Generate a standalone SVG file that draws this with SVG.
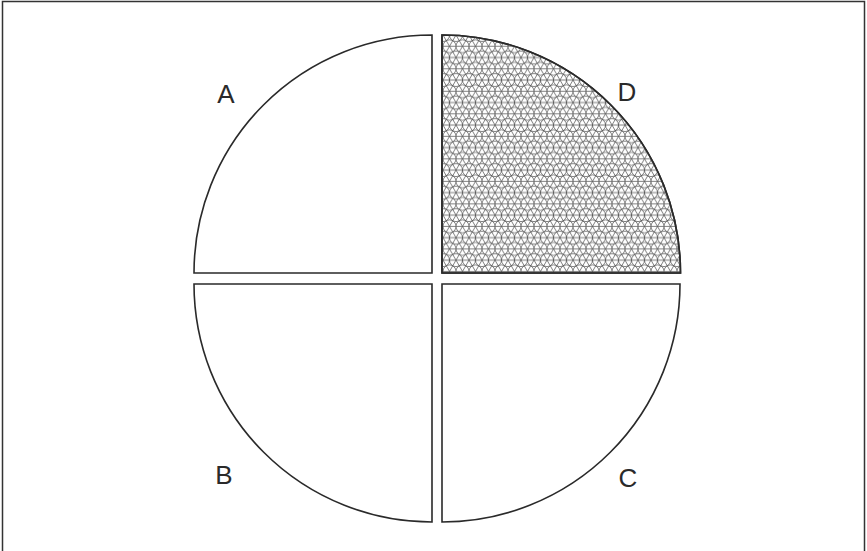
<svg xmlns="http://www.w3.org/2000/svg" width="867" height="551" viewBox="0 0 867 551">
<style>
.q{stroke:#2a2a2a;stroke-width:1.6;stroke-linejoin:miter}
.lbl{font-family:"Liberation Sans",Arial,sans-serif;font-size:26px;fill:#2a2a2a;text-anchor:middle}
</style>
<defs>
<pattern id="mesh" patternUnits="userSpaceOnUse" x="443" y="35" width="13" height="22.517">
<g fill="none" stroke="#555" stroke-width="0.75">
<path d="M0,0H13M0,11.258H13M0,22.517H13M0,0L13,22.517M13,0L0,22.517M6.5,-11.258L19.5,11.258M-6.5,11.258L6.5,33.775M6.5,-11.258L-6.5,11.258M19.5,11.258L6.5,33.775"/>
<circle cx="0" cy="0" r="6.5"/><circle cx="13" cy="0" r="6.5"/>
<circle cx="6.5" cy="11.258" r="6.5"/>
<circle cx="0" cy="22.517" r="6.5"/><circle cx="13" cy="22.517" r="6.5"/>
</g>
</pattern>
</defs>
<rect x="2.5" y="1.5" width="862" height="580" fill="#fff" stroke="#333" stroke-width="1.5"/>
<g id="A"><path class="q" fill="#fff" d="M432,273 L194,273 A238,238 0 0 1 432,35 Z"/><text class="lbl" x="226" y="103">A</text></g>
<g id="D"><path class="q" fill="#fff" d="M442,273 L442,35 A238.5,238 0 0 1 680.5,273 Z"/><path fill="url(#mesh)" d="M442,273 L442,35 A238.5,238 0 0 1 680.5,273 Z"/><path class="q" fill="none" d="M442,273 L442,35 A238.5,238 0 0 1 680.5,273 Z"/><text class="lbl" x="627" y="101">D</text></g>
<g id="B"><path class="q" fill="#fff" d="M432,284 L194,284 A238,238 0 0 0 432,522 Z"/><text class="lbl" x="224" y="484">B</text></g>
<g id="C"><path class="q" fill="#fff" d="M442,284 L680,284 A238,238 0 0 1 442,522 Z"/><text class="lbl" x="628" y="487">C</text></g>
<g id="connectors"></g>
</svg>
